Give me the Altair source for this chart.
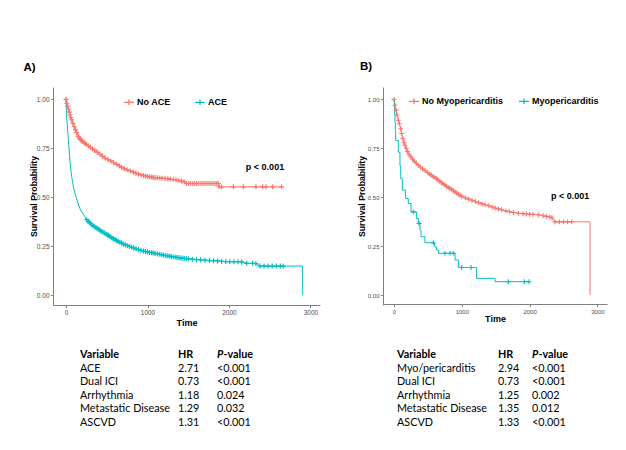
import altair as alt
import pandas as pd

# ---------------- data ----------------
# Panel A: No ACE vs ACE  (time in days, survival probability)
a_no_t = [0, 10, 20, 30, 40, 50, 60, 70, 85, 100,
          115, 130, 151, 165, 180, 195, 210, 230, 250, 275,
          300, 325, 350, 383, 417, 448, 479, 515, 550, 585,
          622, 652, 683, 715, 750, 788, 826, 857, 888, 920,
          950, 975, 1000, 1025, 1050, 1070, 1092, 1120, 1150, 1180,
          1215, 1250, 1280, 1315, 1350, 1385, 1419, 1450, 1480, 1505,
          1530, 1555, 1580, 1605, 1630, 1655, 1680, 1705, 1730, 1755,
          1780, 1805, 1830, 1850, 1870, 1880, 1910, 2054, 2176, 2331,
          2413, 2454, 2536, 2646]
a_no_s = [1.0, 0.98, 0.965, 0.95, 0.935, 0.92, 0.907, 0.895, 0.877, 0.86,
          0.845, 0.83, 0.81, 0.802, 0.795, 0.789, 0.783, 0.776, 0.77, 0.762,
          0.755, 0.747, 0.74, 0.73, 0.72, 0.71, 0.70, 0.692, 0.685, 0.676,
          0.668, 0.66, 0.652, 0.646, 0.64, 0.634, 0.628, 0.623, 0.618, 0.614,
          0.61, 0.608, 0.606, 0.604, 0.603, 0.601, 0.60, 0.599, 0.598, 0.597,
          0.596, 0.594, 0.592, 0.59, 0.588, 0.585, 0.582, 0.578, 0.57, 0.57,
          0.57, 0.57, 0.57, 0.57, 0.57, 0.57, 0.57, 0.57, 0.57, 0.57,
          0.57, 0.57, 0.57, 0.57, 0.57, 0.553, 0.553, 0.553, 0.553, 0.553,
          0.553, 0.553, 0.553, 0.553]
a_no_c = [1] * 84

a_ace_t = [0, 4, 8, 18, 29, 40, 49, 60, 75, 90,
           110, 130, 151, 172, 200, 230, 254, 272, 290, 310,
           330, 350, 370, 390, 410, 430, 450, 470, 490, 505,
           520, 540, 560, 580, 600, 620, 640, 660, 683, 706,
           730, 755, 780, 805, 830, 860, 888, 920, 950, 975,
           1000, 1025, 1050, 1070, 1092, 1120, 1150, 1175, 1200, 1225,
           1250, 1275, 1297, 1325, 1350, 1375, 1400, 1425, 1450, 1475,
           1501, 1550, 1600, 1650, 1706, 1760, 1810, 1860, 1910, 1960,
           2010, 2060, 2110, 2156, 2217, 2290, 2330, 2381, 2430, 2480,
           2530, 2580, 2630, 2666, 2904, 2904]
a_ace_s = [1.0, 0.95, 0.91, 0.85, 0.79, 0.73, 0.68, 0.635, 0.59, 0.555,
           0.52, 0.49, 0.465, 0.44, 0.42, 0.40, 0.385, 0.377, 0.37, 0.362,
           0.355, 0.349, 0.343, 0.338, 0.333, 0.327, 0.322, 0.317, 0.312, 0.308,
           0.305, 0.299, 0.293, 0.288, 0.283, 0.278, 0.274, 0.27, 0.265, 0.26,
           0.256, 0.252, 0.248, 0.244, 0.241, 0.236, 0.232, 0.228, 0.225, 0.222,
           0.22, 0.218, 0.216, 0.2145, 0.213, 0.21, 0.208, 0.2055, 0.203, 0.2015,
           0.20, 0.198, 0.196, 0.1945, 0.193, 0.1915, 0.19, 0.1885, 0.187, 0.186,
           0.185, 0.183, 0.181, 0.18, 0.178, 0.176, 0.175, 0.174, 0.172, 0.171,
           0.17, 0.17, 0.17, 0.169, 0.162, 0.162, 0.16, 0.148, 0.148, 0.148,
           0.148, 0.148, 0.148, 0.148, 0.148, 0.0]
a_ace_c = [0] * 16 + [1] * 78 + [0] * 2

# Panel B: No Myopericarditis vs Myopericarditis
b_no_t = [0, 15, 30, 45, 64, 80, 100, 113, 130, 150,
          162, 180, 200, 225, 250, 275, 300, 330, 359, 390,
          420, 460, 500, 525, 550, 578, 605, 628, 650, 675,
          700, 725, 750, 775, 800, 825, 850, 875, 900, 925,
          950, 975, 1000, 1050, 1100, 1150, 1200, 1250, 1300, 1342,
          1400, 1450, 1490, 1540, 1588, 1650, 1700, 1760, 1834, 1900,
          1950, 2000, 2050, 2128, 2200, 2250, 2300, 2330, 2375, 2440,
          2500, 2560, 2620, 2891, 2891]
b_no_s = [1.0, 0.97, 0.945, 0.92, 0.893, 0.875, 0.85, 0.825, 0.80, 0.778,
          0.765, 0.75, 0.733, 0.717, 0.705, 0.695, 0.683, 0.673, 0.663, 0.654,
          0.645, 0.635, 0.625, 0.618, 0.612, 0.606, 0.60, 0.594, 0.588, 0.581,
          0.575, 0.568, 0.562, 0.556, 0.55, 0.545, 0.54, 0.533, 0.527, 0.521,
          0.515, 0.51, 0.505, 0.497, 0.49, 0.484, 0.478, 0.472, 0.466, 0.462,
          0.456, 0.45, 0.445, 0.44, 0.436, 0.43, 0.426, 0.422, 0.418, 0.416,
          0.414, 0.413, 0.412, 0.41, 0.405, 0.402, 0.398, 0.395, 0.374, 0.374,
          0.374, 0.374, 0.374, 0.374, 0.0]
b_no_c = [1] * 73 + [0] * 2

b_my_t = [0, 5, 10, 15, 20, 25, 64, 88, 100, 123,
          172, 211, 251, 285, 334, 359, 370, 383, 398, 457,
          580, 600, 629, 654, 752, 826, 875, 900, 949, 998,
          1136, 1219, 1490, 1686, 1922, 1991, 2006]
b_my_s = [1.0, 0.96, 0.92, 0.88, 0.84, 0.79, 0.73, 0.66, 0.595, 0.536,
          0.493, 0.468, 0.425, 0.425, 0.391, 0.366, 0.366, 0.332, 0.298, 0.267,
          0.267, 0.246, 0.23, 0.213, 0.213, 0.213, 0.213, 0.179, 0.141, 0.141,
          0.141, 0.085, 0.068, 0.068, 0.068, 0.068, 0.068]
b_my_c = [0, 0, 0, 0, 0, 0, 0, 0, 0, 0,
          0, 0, 0, 1, 0, 0, 1, 0, 0, 0,
          1, 0, 0, 0, 1, 1, 1, 0, 0, 1,
          1, 0, 0, 1, 1, 1, 0]

groups_a = ["No ACE", "ACE"]
groups_b = ["No Myopericarditis", "Myopericarditis"]
pval_text = "p < 0.001"
pval_a = (2442, 0.653)
pval_b = (2596, 0.505)

tab_header = ["Variable", "HR", "P", "-value"]
tabA_var = ["ACE", "Dual ICI", "Arrhythmia", "Metastatic Disease", "ASCVD"]
tabA_hr = ["2.71", "0.73", "1.18", "1.29", "1.31"]
tabA_p = ["<0.001", "<0.001", "0.024", "0.032", "<0.001"]
tabB_var = ["Myo/pericarditis", "Dual ICI", "Arrhythmia", "Metastatic Disease", "ASCVD"]
tabB_hr = ["2.94", "0.73", "1.25", "1.35", "1.33"]
tabB_p = ["<0.001", "<0.001", "0.002", "0.012", "<0.001"]

# ---------------- styling ----------------
RED = "#F8766D"
CYAN = "#00BFC4"
FONT = "Liberation Sans"
TFONT = "Lato"
W, H = 610, 434
PLUS = "M-1,0L1,0M0,-1L0,1"
LEG_SYM = "M-1,0L1,0M0,-0.55L0,0.55"
AXC = "#808080"


def km_frame(series):
    rows = []
    for name, ts, ss, cs in series:
        for i, (t, s, c) in enumerate(zip(ts, ss, cs)):
            rows.append({"group": name, "t": t, "s": s, "c": c, "o": i})
    return pd.DataFrame(rows)


dfA = km_frame([(groups_a[0], a_no_t, a_no_s, a_no_c),
                (groups_a[1], a_ace_t, a_ace_s, a_ace_c)])
dfB_no = km_frame([(groups_b[0], b_no_t, b_no_s, b_no_c)])
dfB_my = km_frame([(groups_b[1], b_my_t, b_my_s, b_my_c)])
dfB = pd.concat([dfB_no, dfB_my], ignore_index=True)


def x_enc(domain, rng, offset, title_y, lab_size):
    return alt.X("t:Q",
                 scale=alt.Scale(domain=domain, range=rng, nice=False, zero=False),
                 axis=alt.Axis(orient="bottom", offset=offset, values=[0, 1000, 2000, 3000],
                               format="d", title="Time", titleY=title_y, titleBaseline="middle",
                               titleFont=FONT, titleFontSize=9, titleFontWeight="bold",
                               titleColor="black", labelFont=FONT, labelFontSize=lab_size,
                               labelColor="#4d4d4d", labelPadding=1.5, tickSize=2.5,
                               tickColor=AXC, domainColor=AXC, grid=False))


def y_enc(offset, title_x, lab_size):
    return alt.Y("s:Q",
                 scale=alt.Scale(domain=[-0.051, 1.063], range=[297, 79], nice=False, zero=False),
                 axis=alt.Axis(orient="left", offset=offset, values=[0, 0.25, 0.5, 0.75, 1.0],
                               format=".2f", title="Survival Probability", titleX=title_x,
                               titleBaseline="middle", titleAngle=-90, titleAlign="center",
                               titleFont=FONT, titleFontSize=8.7, titleFontWeight="bold",
                               titleColor="black", labelFont=FONT, labelFontSize=lab_size,
                               labelColor="#4d4d4d", labelPadding=1.5, tickSize=2.5,
                               tickColor=AXC, domainColor=AXC, grid=False))


def c_enc(domain, lx, ly, colpad):
    return alt.Color("group:N",
                     scale=alt.Scale(domain=domain, range=[RED, CYAN]),
                     legend=alt.Legend(orient="none", legendX=lx, legendY=ly,
                                       direction="horizontal", title=None,
                                       symbolType=LEG_SYM, symbolSize=100,
                                       symbolStrokeWidth=1.3, labelFont=FONT,
                                       labelFontSize=9, labelFontWeight="bold",
                                       labelColor="black", labelOffset=2,
                                       columnPadding=colpad, padding=0))


# ---------------- panel A ----------------
xA = x_enc([-160, 3117], [45, 312], -137, 17, 6.5)
yA = y_enc(-45, -20, 6.5)
cA = c_enc(groups_a, 115, 88, 21)

lineA = alt.Chart(dfA).mark_line(strokeWidth=1, interpolate="linear").encode(
    x=xA, y=yA, color=cA, order="o:Q")
crossA = alt.Chart(dfA).transform_filter("datum.c == 1").mark_point(
    shape=PLUS, size=26, filled=False, strokeWidth=1.2, opacity=1).encode(x=xA, y=yA, color=cA)
pA = alt.Chart(pd.DataFrame({"t": [pval_a[0]], "s": [pval_a[1]], "label": [pval_text]})).mark_text(
    font=FONT, fontSize=9, fontWeight="bold", color="black").encode(x=xA, y=yA, text="label:N")
panelA = alt.layer(lineA, crossA, pA)

# ---------------- panel B ----------------
xB = x_enc([-162, 3141], [375, 599], -138, 14, 6)
yB = y_enc(-375, -21.5, 6)
cB = c_enc(groups_b, 400, 87, 12)

lineB1 = alt.Chart(dfB_no).mark_line(strokeWidth=1, interpolate="linear").encode(
    x=xB, y=yB, color=cB, order="o:Q")
lineB2 = alt.Chart(dfB_my).mark_line(strokeWidth=1, interpolate="step-after").encode(
    x=xB, y=yB, color=cB, order="o:Q")
crossB = alt.Chart(dfB).transform_filter("datum.c == 1").mark_point(
    shape=PLUS, size=24, filled=False, strokeWidth=1.1, opacity=1).encode(x=xB, y=yB, color=cB)
pB = alt.Chart(pd.DataFrame({"t": [pval_b[0]], "s": [pval_b[1]], "label": [pval_text]})).mark_text(
    font=FONT, fontSize=9, fontWeight="bold", color="black").encode(x=xB, y=yB, text="label:N")
panelB = alt.layer(lineB1, lineB2, crossB, pB)


# ---------------- tables ----------------
def table(vars_, hrs, ps, x_var, x_hr, x_p):
    body = pd.DataFrame({"row": list(range(1, len(vars_) + 1)), "var": vars_, "hr": hrs, "p": ps})
    head = pd.DataFrame({"row": [0], "h0": [tab_header[0]], "h1": [tab_header[1]],
                         "h2": [tab_header[2]], "h3": [tab_header[3]]})
    ty = alt.Y("row:Q", scale=alt.Scale(domain=[0, 5], range=[347, 414.7], nice=False, zero=False),
               axis=None)
    base_b = dict(font=TFONT, fontSize=10.8, color="black", align="left", baseline="middle")
    layers = [
        alt.Chart(body).mark_text(**base_b).encode(x=alt.value(x_var), y=ty, text="var:N"),
        alt.Chart(body).mark_text(**base_b).encode(x=alt.value(x_hr), y=ty, text="hr:N"),
        alt.Chart(body).mark_text(**base_b).encode(x=alt.value(x_p), y=ty, text="p:N"),
        alt.Chart(head).mark_text(fontWeight="bold", **base_b).encode(x=alt.value(x_var), y=ty, text="h0:N"),
        alt.Chart(head).mark_text(fontWeight="bold", **base_b).encode(x=alt.value(x_hr), y=ty, text="h1:N"),
        alt.Chart(head).mark_text(fontWeight="bold", fontStyle="italic", **base_b).encode(
            x=alt.value(x_p), y=ty, text="h2:N"),
        alt.Chart(head).mark_text(fontWeight="bold", **base_b).encode(
            x=alt.value(x_p + 6.5), y=ty, text="h3:N"),
    ]
    return alt.layer(*layers)


tabA = table(tabA_var, tabA_hr, tabA_p, 72, 170, 209)
tabB = table(tabB_var, tabB_hr, tabB_p, 389, 490, 524)

# panel letters
labA = alt.Chart(pd.DataFrame({"l": ["A)"]})).mark_text(
    font=FONT, fontSize=11.5, fontWeight="bold", color="black", align="left", baseline="middle"
).encode(x=alt.value(15.5), y=alt.value(60), text="l:N")
labB = alt.Chart(pd.DataFrame({"l": ["B)"]})).mark_text(
    font=FONT, fontSize=11.5, fontWeight="bold", color="black", align="left", baseline="middle"
).encode(x=alt.value(352), y=alt.value(59), text="l:N")

chart = alt.layer(panelA, panelB, tabA, tabB, labA, labB).resolve_scale(
    x="independent", y="independent", color="independent"
).properties(
    width=W, height=H, padding=0, autosize=alt.AutoSizeParams(type="none"), background="white"
).configure_view(stroke=None)

chart.save("out.html", embed_options={"renderer": "svg", "actions": False})
